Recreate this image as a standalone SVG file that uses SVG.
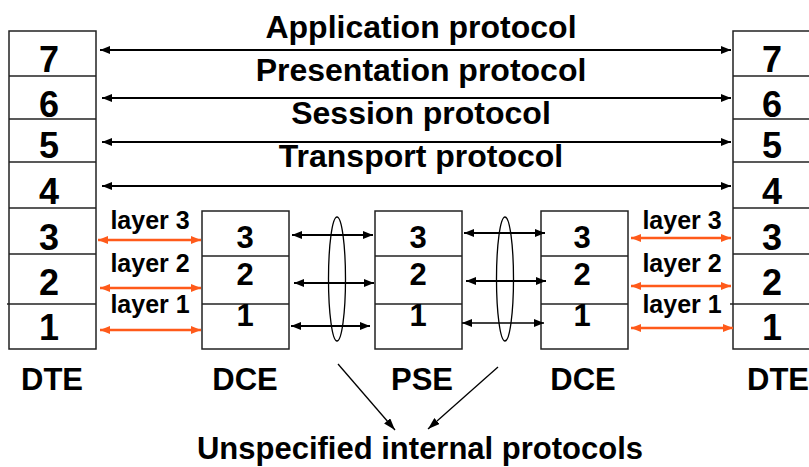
<svg xmlns="http://www.w3.org/2000/svg" width="809" height="467" viewBox="0 0 809 467">
<style>
text{font-family:"Liberation Sans",Arial,sans-serif;font-weight:bold;fill:#000;text-anchor:middle}
.box{fill:#fff;stroke:#222;stroke-width:1.5}
.div{stroke:#222;stroke-width:1.5}
.big{font-size:36px}
.mid{font-size:31px}
.head{font-size:32px}
.foot{font-size:31px}
.num{font-size:31px}
.lay{font-size:25px}
.blk{stroke:#000;stroke-width:2.2;fill:none;marker-start:url(#ab);marker-end:url(#ab)}
.thin{stroke:#000;stroke-width:1.3;fill:none;marker-start:url(#ab);marker-end:url(#ab)}
.org{stroke:#FF5A1A;stroke-width:2.5;fill:none;marker-start:url(#ao);marker-end:url(#ao)}
.ell{fill:none;stroke:#000;stroke-width:1.3}
.dia{stroke:#000;stroke-width:1.3;fill:none;marker-end:url(#ad)}
</style>
<defs>
<marker id="ab" viewBox="0 0 10 8" refX="10" refY="4" markerWidth="10" markerHeight="8" markerUnits="userSpaceOnUse" orient="auto-start-reverse"><path d="M0,0 L10,4 L0,8 z" fill="#000"/></marker>
<marker id="ao" viewBox="0 0 10 8" refX="10" refY="4" markerWidth="10" markerHeight="8" markerUnits="userSpaceOnUse" orient="auto-start-reverse"><path d="M0,0 L10,4 L0,8 z" fill="#FF5A1A"/></marker>
<marker id="ad" viewBox="0 0 12 8" refX="12" refY="4" markerWidth="12" markerHeight="8" markerUnits="userSpaceOnUse" orient="auto"><path d="M0,0 L12,4 L0,8 z" fill="#000"/></marker>
</defs>
<g id="dte-left">
<rect class="box" x="9" y="31" width="87" height="318"/>
<line class="div" x1="9" y1="76" x2="96" y2="76"/>
<line class="div" x1="9" y1="119" x2="96" y2="119"/>
<line class="div" x1="9" y1="162" x2="96" y2="162"/>
<line class="div" x1="9" y1="208" x2="96" y2="208"/>
<line class="div" x1="9" y1="254" x2="96" y2="254"/>
<line class="div" x1="7" y1="304" x2="96" y2="304"/>
<text class="big" x="49" y="72">7</text>
<text class="big" x="49" y="117">6</text>
<text class="big" x="49" y="158">5</text>
<text class="big" x="49" y="204">4</text>
<text class="big" x="49" y="250">3</text>
<text class="big" x="49" y="295">2</text>
<text class="big" x="49" y="340">1</text>
<text class="mid" x="52" y="390">DTE</text>
</g>
<g id="dte-right">
<rect class="box" x="733" y="31" width="87" height="318"/>
<line class="div" x1="733" y1="76" x2="820" y2="76"/>
<line class="div" x1="733" y1="119" x2="820" y2="119"/>
<line class="div" x1="733" y1="162" x2="820" y2="162"/>
<line class="div" x1="733" y1="208" x2="820" y2="208"/>
<line class="div" x1="733" y1="254" x2="820" y2="254"/>
<line class="div" x1="730" y1="304" x2="820" y2="304"/>
<text class="big" x="772" y="72">7</text>
<text class="big" x="772" y="117">6</text>
<text class="big" x="772" y="158">5</text>
<text class="big" x="772" y="204">4</text>
<text class="big" x="772" y="250">3</text>
<text class="big" x="772" y="295">2</text>
<text class="big" x="772" y="340">1</text>
<text class="mid" x="778" y="390">DTE</text>
</g>
<g id="dce-left">
<rect class="box" x="202" y="211" width="87" height="138"/>
<line class="div" x1="202" y1="256" x2="289" y2="256"/>
<line class="div" x1="202" y1="304" x2="289" y2="304"/>
<text class="num" x="245" y="248">3</text>
<text class="num" x="245" y="285">2</text>
<text class="num" x="245" y="326">1</text>
<text class="mid" x="245" y="390">DCE</text>
</g>
<g id="pse">
<rect class="box" x="375" y="211" width="87" height="138"/>
<line class="div" x1="375" y1="256" x2="462" y2="256"/>
<line class="div" x1="375" y1="304" x2="462" y2="304"/>
<text class="num" x="418" y="248">3</text>
<text class="num" x="418" y="285">2</text>
<text class="num" x="418" y="326">1</text>
<text class="mid" x="422" y="390">PSE</text>
</g>
<g id="dce-right">
<rect class="box" x="541" y="211" width="87" height="138"/>
<line class="div" x1="541" y1="256" x2="628" y2="256"/>
<line class="div" x1="541" y1="304" x2="628" y2="304"/>
<text class="num" x="582" y="248">3</text>
<text class="num" x="582" y="285">2</text>
<text class="num" x="582" y="326">1</text>
<text class="mid" x="583" y="390">DCE</text>
</g>
<g id="labels">
<text class="head" x="421" y="38">Application protocol</text>
<text class="head" x="421" y="81">Presentation protocol</text>
<text class="head" x="421" y="124">Session protocol</text>
<text class="head" x="421" y="167">Transport protocol</text>
<text class="lay" x="150" y="229">layer 3</text>
<text class="lay" x="150" y="272">layer 2</text>
<text class="lay" x="150" y="313">layer 1</text>
<text class="lay" x="682" y="229">layer 3</text>
<text class="lay" x="682" y="272">layer 2</text>
<text class="lay" x="682" y="313">layer 1</text>
<text class="foot" x="420" y="459">Unspecified internal protocols</text>
</g>
<g id="connectors">
<line class="blk" x1="100" y1="50" x2="731" y2="50"/>
<line class="blk" x1="102" y1="98" x2="731" y2="98"/>
<line class="blk" x1="102" y1="142" x2="731" y2="142"/>
<line class="blk" x1="102" y1="186" x2="731" y2="186"/>
<line class="org" x1="98" y1="240" x2="201" y2="240"/>
<line class="org" x1="100" y1="288" x2="201" y2="288"/>
<line class="org" x1="100" y1="330" x2="201" y2="330"/>
<line class="org" x1="631" y1="238" x2="731" y2="238"/>
<line class="org" x1="631" y1="286" x2="731" y2="286"/>
<line class="org" x1="631" y1="328" x2="733" y2="328"/>
<line class="blk" x1="292" y1="235" x2="373" y2="235"/>
<line class="blk" x1="294" y1="283" x2="374" y2="283"/>
<line class="blk" x1="291" y1="326" x2="370" y2="326"/>
<line class="blk" x1="464" y1="233" x2="545" y2="233"/>
<line class="blk" x1="466" y1="281" x2="546" y2="281"/>
<line class="thin" x1="462" y1="323" x2="544" y2="323"/>
<ellipse class="ell" cx="337" cy="279" rx="8.5" ry="62"/>
<ellipse class="ell" cx="505" cy="279" rx="8.5" ry="62"/>
<line class="dia" x1="338" y1="364" x2="395" y2="430"/>
<line class="dia" x1="498" y1="367" x2="428" y2="429"/>
</g>
</svg>
